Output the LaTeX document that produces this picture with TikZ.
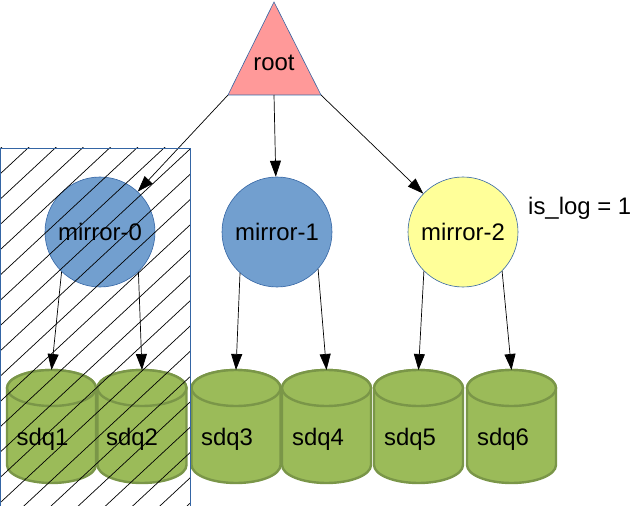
\documentclass[tikz,border=0pt]{standalone}
\usepackage{fontspec}
\setmainfont{Liberation Sans}
\usepackage{xcolor}
\usetikzlibrary{arrows.meta}
\definecolor{mirrorblue}{HTML}{729FCF}
\definecolor{edgeblue}{HTML}{3465A4}
\definecolor{logyellow}{HTML}{FFFF99}
\definecolor{rootpink}{HTML}{FF9999}
\definecolor{diskgreen}{HTML}{9BBB59}
\definecolor{diskedge}{HTML}{7A9648}

\begin{document}
\begin{tikzpicture}[x=1bp, y=-1bp,
  every node/.style={font=\fontsize{24}{28}\selectfont, inner sep=0pt},
  mirror/.style={circle, draw=edgeblue, line width=0.6bp, minimum size=110bp},
  disk/.style={fill=diskgreen, draw=diskedge, line width=2.4bp},
  link/.style={-{Triangle[length=16bp,width=11bp]}, line width=0.7bp},
  hatch/.style={line width=0.7bp}]

\useasboundingbox (0,0) rectangle (642,506);

\draw[fill=rootpink, draw=edgeblue, line width=0.6bp] (274,2) -- (321,95) -- (228,95) -- cycle;
\coordinate (root-l) at (228,95);
\coordinate (root-b) at (274,95);
\coordinate (root-r) at (321,95);
\node[anchor=base] (root) at (274,71) {root};

\node[mirror, fill=mirrorblue] (m0) at (100,232) {mirror-0};
\node[mirror, fill=mirrorblue] (m1) at (277,232) {mirror-1};
\node[mirror, fill=logyellow] (m2) at (463,232) {mirror-2};
\node[anchor=base west] (islog) at (528,215) {is\_log = 1};

\draw[disk] (7,388) -- (7,465) arc[start angle=180,end angle=0,x radius=44.5,y radius=18] -- (96,388) arc[start angle=0,end angle=-180,x radius=44.5,y radius=18] -- cycle;
\draw[disk] (51.5,388) ellipse [x radius=44.5, y radius=18];

\draw[disk] (97.5,388) -- (97.5,465) arc[start angle=180,end angle=0,x radius=44.5,y radius=18] -- (186.5,388) arc[start angle=0,end angle=-180,x radius=44.5,y radius=18] -- cycle;
\draw[disk] (142,388) ellipse [x radius=44.5, y radius=18];

\draw[disk] (191.5,388) -- (191.5,465) arc[start angle=180,end angle=0,x radius=44.5,y radius=18] -- (280.5,388) arc[start angle=0,end angle=-180,x radius=44.5,y radius=18] -- cycle;
\draw[disk] (236,388) ellipse [x radius=44.5, y radius=18];

\draw[disk] (282,388) -- (282,465) arc[start angle=180,end angle=0,x radius=44.5,y radius=18] -- (371,388) arc[start angle=0,end angle=-180,x radius=44.5,y radius=18] -- cycle;
\draw[disk] (326.5,388) ellipse [x radius=44.5, y radius=18];

\draw[disk] (374,388) -- (374,465) arc[start angle=180,end angle=0,x radius=44.5,y radius=18] -- (463,388) arc[start angle=0,end angle=-180,x radius=44.5,y radius=18] -- cycle;
\draw[disk] (418.5,388) ellipse [x radius=44.5, y radius=18];

\draw[disk] (467,388) -- (467,465) arc[start angle=180,end angle=0,x radius=44.5,y radius=18] -- (556,388) arc[start angle=0,end angle=-180,x radius=44.5,y radius=18] -- cycle;
\draw[disk] (511.5,388) ellipse [x radius=44.5, y radius=18];

\coordinate (d1-top) at (51.5,370);
\coordinate (d2-top) at (142,370);
\coordinate (d3-top) at (236,370);
\coordinate (d4-top) at (326.5,370);
\coordinate (d5-top) at (418.5,370);
\coordinate (d6-top) at (511.5,370);

\node[anchor=base] (d1) at (42.5,445) {sdq1};
\node[anchor=base] (d2) at (132,445) {sdq2};
\node[anchor=base] (d3) at (227,445) {sdq3};
\node[anchor=base] (d4) at (318,445) {sdq4};
\node[anchor=base] (d5) at (410,445) {sdq5};
\node[anchor=base] (d6) at (503,445) {sdq6};

\draw[link] (root-l) -- (m0);
\draw[link] (root-b) -- (m1);
\draw[link] (root-r) -- (m2);

\draw[link] (m0.-134) -- (d1-top);
\draw[link] (m0.-46) -- (d2-top);
\draw[link] (m1.-132) -- (d3-top);
\draw[link] (m1.-42) -- (d4-top);
\draw[link] (m2.-135) -- (d5-top);
\draw[link] (m2.-45) -- (d6-top);

\begin{scope}
\clip (0,148) rectangle (190,506);
\foreach \k in {-1,...,21}
  \draw[hatch] ({28+27.2*\k-400},520) -- ({28+27.2*\k+100},55);
\end{scope}
\draw[edgeblue, line width=0.8bp] (0.8,506) |- (190,148) -- (190,506);

\end{tikzpicture}
\end{document}
